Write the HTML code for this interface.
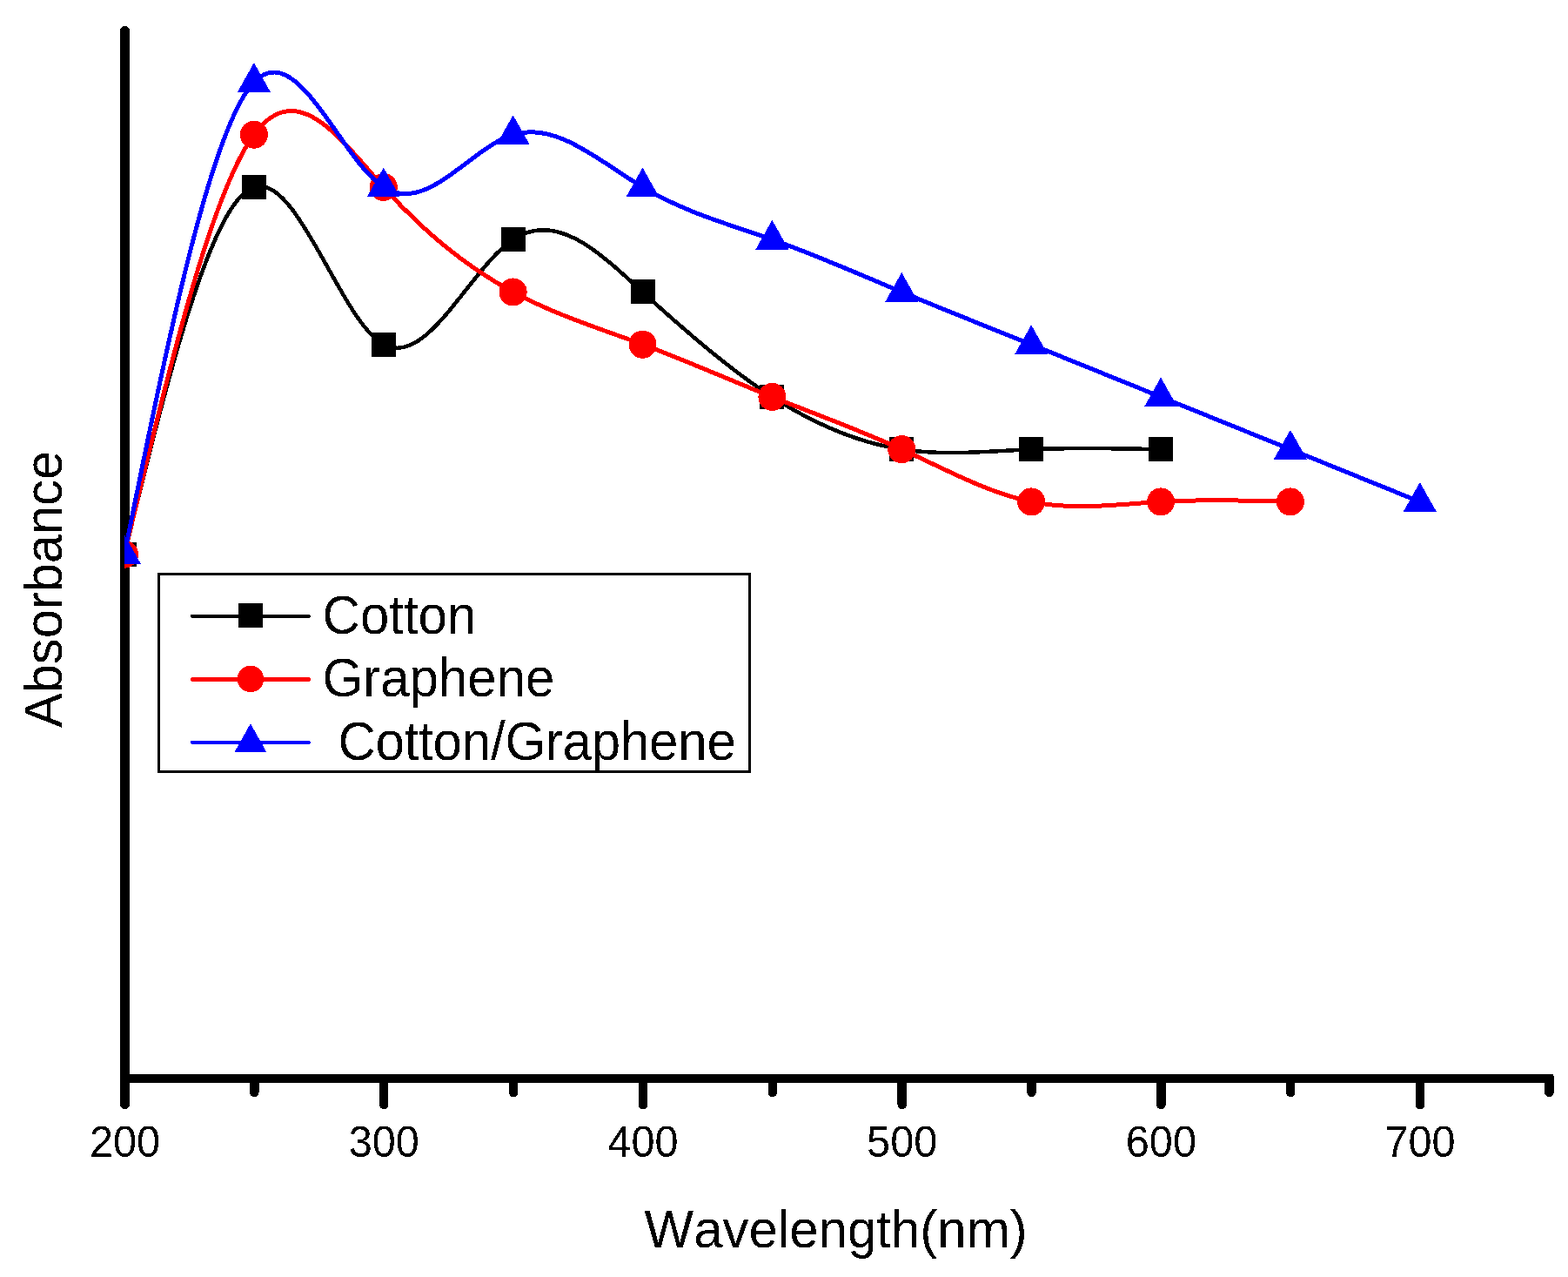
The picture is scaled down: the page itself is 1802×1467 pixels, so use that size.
<!DOCTYPE html>
<html lang="en">
<head>
<meta charset="utf-8">
<title>Absorbance vs Wavelength</title>
<style>
html,body{margin:0;padding:0;background:#ffffff;}
body{width:1802px;height:1467px;overflow:hidden;font-family:"Liberation Sans",sans-serif;}
svg{display:block;}
</style>
</head>
<body>
<svg width="1802" height="1467" viewBox="0 0 1802 1467" shape-rendering="crispEdges">
<defs>
<filter id="bw" x="0" y="0" width="1802" height="1467" filterUnits="userSpaceOnUse" color-interpolation-filters="sRGB"><feComponentTransfer><feFuncA type="discrete" tableValues="0 1"/></feComponentTransfer></filter>
<clipPath id="plot"><rect x="143" y="0" width="1659" height="1240"/></clipPath>
</defs>
<rect width="1802" height="1467" fill="#ffffff"/>
<g id="axes" stroke="#000" fill="none" stroke-linecap="round">
<path d="M143.5 35.4 V1268.9" stroke-width="10.8"/>
<rect x="138.1" y="1234" width="1647.5" height="10" rx="2.5" fill="#000" stroke="none"/>
<path d="M292.36 1239 V1255.1" stroke-width="10.4"/>
<path d="M441.22 1239 V1269.1" stroke-width="10.4"/>
<path d="M590.08 1239 V1255.1" stroke-width="10.4"/>
<path d="M738.94 1239 V1269.1" stroke-width="10.4"/>
<path d="M887.8 1239 V1255.1" stroke-width="10.4"/>
<path d="M1036.66 1239 V1269.1" stroke-width="10.4"/>
<path d="M1185.52 1239 V1255.1" stroke-width="10.4"/>
<path d="M1334.38 1239 V1269.1" stroke-width="10.4"/>
<path d="M1483.24 1239 V1255.1" stroke-width="10.4"/>
<path d="M1632.1 1239 V1269.1" stroke-width="10.4"/>
<path d="M1780.4 1239 V1255.1" stroke-width="10.4"/>
</g>
<g id="series" clip-path="url(#plot)">
<g fill="#000000" stroke="none">
<path d="M143 636.7 C192.63 434.06 242.25 231.42 291.88 214.95 C341.51 198.48 391.13 368.19 440.76 395.7 C490.39 423.21 540.01 308.53 589.64 275.2 C639.27 241.87 688.89 289.9 738.52 335.45 C788.15 381 837.77 424.06 887.4 455.95 C937.03 487.84 986.65 508.57 1036.28 516.2 C1085.91 523.83 1135.53 518.38 1185.16 516.2 C1234.79 514.02 1284.41 515.11 1334.04 516.2" fill="none" stroke="#000000" stroke-width="4.5" stroke-linejoin="round" stroke-linecap="round"/>
<rect x="129" y="622.7" width="28" height="28"/>
<rect x="277.88" y="200.95" width="28" height="28"/>
<rect x="426.76" y="381.7" width="28" height="28"/>
<rect x="575.64" y="261.2" width="28" height="28"/>
<rect x="724.52" y="321.45" width="28" height="28"/>
<rect x="873.4" y="441.95" width="28" height="28"/>
<rect x="1022.28" y="502.2" width="28" height="28"/>
<rect x="1171.16" y="502.2" width="28" height="28"/>
<rect x="1320.04" y="502.2" width="28" height="28"/>
</g>
<g fill="#ff0000" stroke="none">
<path d="M143 636.7 C192.63 429.43 242.25 222.16 291.88 154.7 C341.51 87.24 391.13 159.58 440.76 214.95 C490.39 270.32 540.01 308.73 589.64 335.45 C639.27 362.17 688.89 377.22 738.52 395.7 C788.15 414.18 837.77 436.1 887.4 455.95 C937.03 475.8 986.65 493.57 1036.28 516.2 C1085.91 538.83 1135.53 566.32 1185.16 576.45 C1234.79 586.58 1284.41 579.34 1334.04 576.45 C1383.67 573.56 1433.29 575 1482.92 576.45" fill="none" stroke="#ff0000" stroke-width="5" stroke-linejoin="round" stroke-linecap="round"/>
<circle cx="143" cy="636.7" r="16"/>
<circle cx="291.88" cy="154.7" r="16"/>
<circle cx="440.76" cy="214.95" r="16"/>
<circle cx="589.64" cy="335.45" r="16"/>
<circle cx="738.52" cy="395.7" r="16"/>
<circle cx="887.4" cy="455.95" r="16"/>
<circle cx="1036.28" cy="516.2" r="16"/>
<circle cx="1185.16" cy="576.45" r="16"/>
<circle cx="1334.04" cy="576.45" r="16"/>
<circle cx="1482.92" cy="576.45" r="16"/>
</g>
<g fill="#0000ff" stroke="none">
<path d="M143 636.7 C192.63 391.66 242.25 146.61 291.88 94.45 C341.51 42.29 391.13 183 440.76 214.95 C490.39 246.9 540.01 170.08 589.64 154.7 C639.27 139.32 688.89 185.36 738.52 214.95 C788.15 244.54 837.77 257.66 887.4 275.2 C937.03 292.74 986.65 314.68 1036.28 335.45 C1085.91 356.22 1135.53 375.8 1185.16 395.7 C1234.79 415.6 1284.41 435.82 1334.04 455.95 C1383.67 476.08 1433.29 496.13 1482.92 516.2 C1532.55 536.27 1582.17 556.36 1631.8 576.45" fill="none" stroke="#0000ff" stroke-width="5" stroke-linejoin="round" stroke-linecap="round"/>
<path d="M143 614.3 L162.1 648.2 L123.9 648.2 Z"/>
<path d="M291.88 72.05 L310.98 105.95 L272.78 105.95 Z"/>
<path d="M440.76 192.55 L459.86 226.45 L421.66 226.45 Z"/>
<path d="M589.64 132.3 L608.74 166.2 L570.54 166.2 Z"/>
<path d="M738.52 192.55 L757.62 226.45 L719.42 226.45 Z"/>
<path d="M887.4 252.8 L906.5 286.7 L868.3 286.7 Z"/>
<path d="M1036.28 313.05 L1055.38 346.95 L1017.18 346.95 Z"/>
<path d="M1185.16 373.3 L1204.26 407.2 L1166.06 407.2 Z"/>
<path d="M1334.04 433.55 L1353.14 467.45 L1314.94 467.45 Z"/>
<path d="M1482.92 493.8 L1502.02 527.7 L1463.82 527.7 Z"/>
<path d="M1631.8 554.05 L1650.9 587.95 L1612.7 587.95 Z"/>
</g>
</g>
<g id="legend">
<rect x="182.5" y="659.5" width="679.4" height="226.7" fill="#ffffff" stroke="#000" stroke-width="3"/>
<g fill="#000000">
<path d="M220.95 707.9 H354.75" stroke="#000000" stroke-width="4.1" stroke-linecap="round" fill="none"/>
<rect x="273.9" y="692.9" width="28" height="28"/>
</g>
<g fill="#ff0000">
<path d="M221.4 780.5 H354.3" stroke="#ff0000" stroke-width="5" stroke-linecap="round" fill="none"/>
<circle cx="287.9" cy="779.9" r="15.28"/>
</g>
<g fill="#0000ff">
<path d="M220.95 852.8 H354.75" stroke="#0000ff" stroke-width="4.1" stroke-linecap="round" fill="none"/>
<path d="M287.9 831.27 L306.43 864.15 L269.37 864.15 Z"/>
</g>
</g>
<g id="labels" fill="#000" style="font-family:'Liberation Sans',sans-serif;font-kerning:none" filter="url(#bw)">
<text transform="translate(143.5 1328.6) scale(1 1.04)" text-anchor="middle" style="font-size:48.6px">200</text>
<text transform="translate(441.22 1328.6) scale(1 1.04)" text-anchor="middle" style="font-size:48.6px">300</text>
<text transform="translate(738.94 1328.6) scale(1 1.04)" text-anchor="middle" style="font-size:48.6px">400</text>
<text transform="translate(1036.66 1328.6) scale(1 1.04)" text-anchor="middle" style="font-size:48.6px">500</text>
<text transform="translate(1334.38 1328.6) scale(1 1.04)" text-anchor="middle" style="font-size:48.6px">600</text>
<text transform="translate(1632.1 1328.6) scale(1 1.04)" text-anchor="middle" style="font-size:48.6px">700</text>
<text transform="translate(960.6 1433.5) scale(1 1.03)" text-anchor="middle" style="font-size:60px">Wavelength(nm)</text>
<text transform="translate(70.5 676.9) rotate(-90) scale(1 1.03)" text-anchor="middle" style="font-size:59.6px">Absorbance</text>
<text transform="translate(370.6 728.4) scale(1 1.05)" style="font-size:60px">Cotton</text>
<text transform="translate(370.6 800.3) scale(1 1.05)" style="font-size:60px">Graphene</text>
<text transform="translate(388.4 872.9) scale(1 1.05)" style="font-size:60px;letter-spacing:-0.2px">Cotton/Graphene</text>
</g>
</svg>
</body>
</html>
